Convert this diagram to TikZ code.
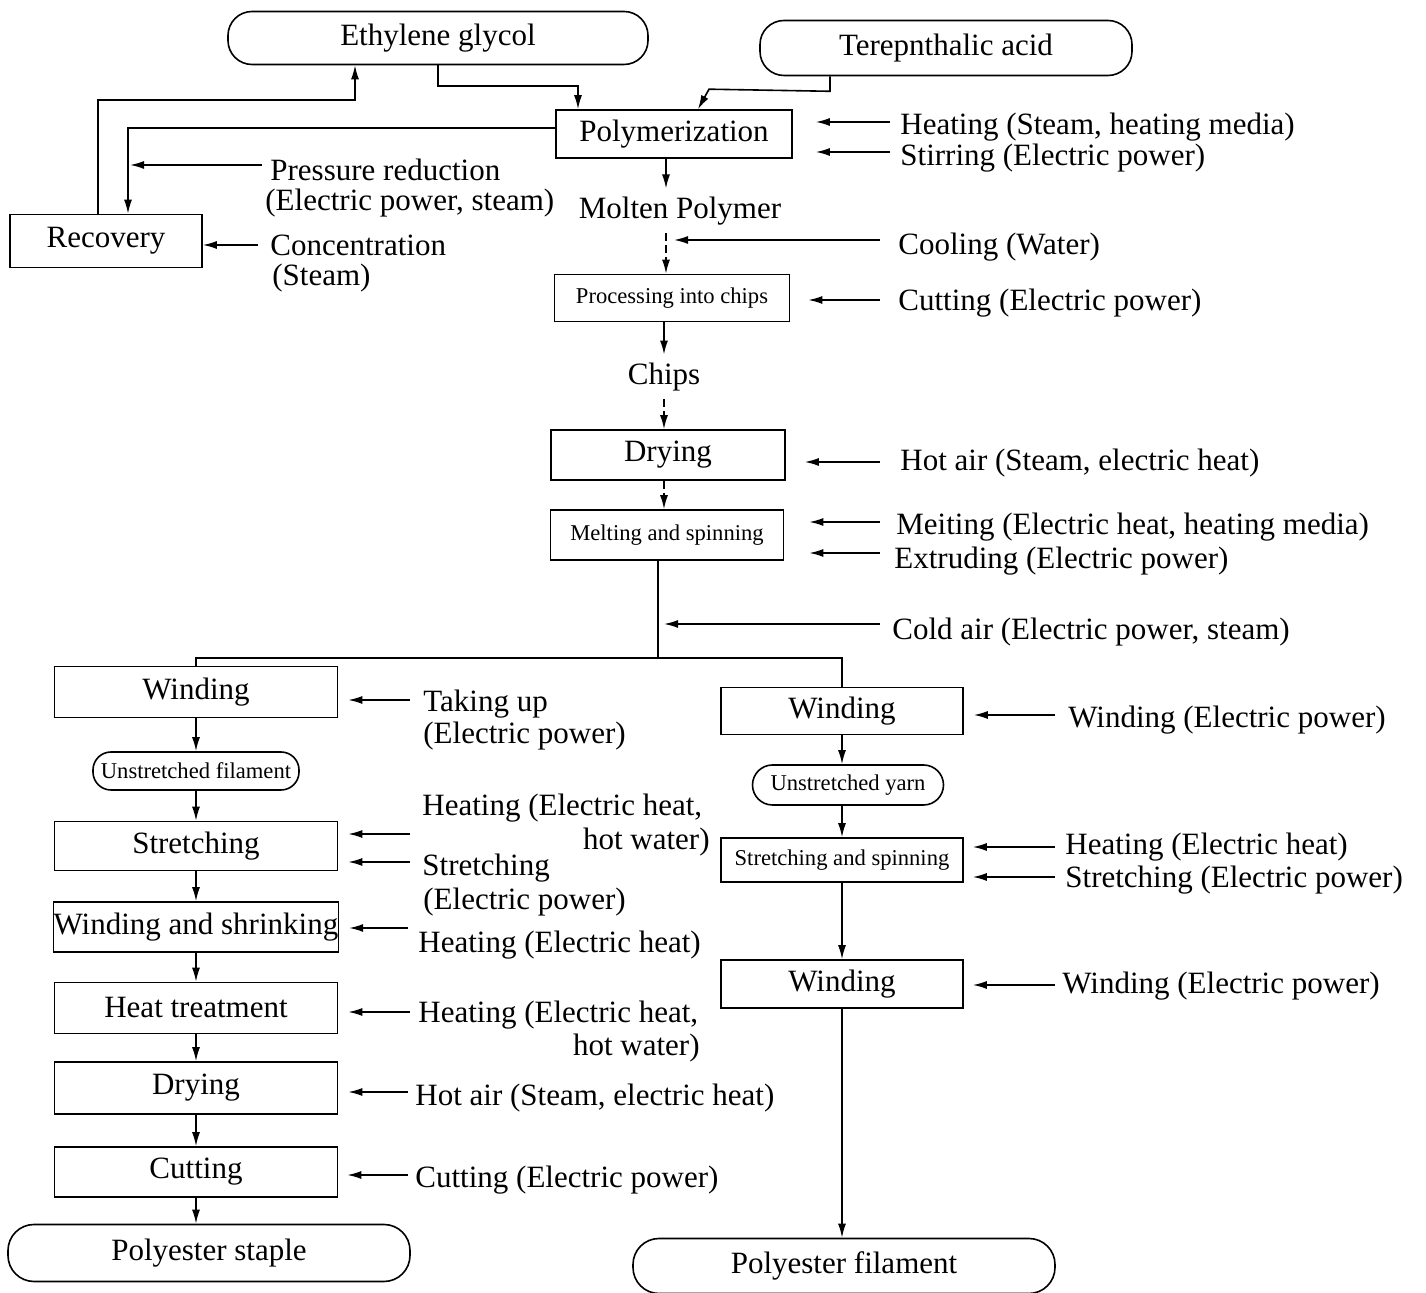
\documentclass[tikz,border=0pt]{standalone}
\usepackage{fontspec}
\setmainfont{Liberation Serif}
\usepackage{tikz}
\usetikzlibrary{positioning,calc,arrows.meta}
\newcommand{\mainsize}{\fontsize{15.5}{16.5}\selectfont}
\newcommand{\boxsmall}{\fontsize{11.3}{13}\selectfont}
\tikzstyle{arrow}=[-{Latex[length=7pt,width=4pt]}, line width=0.8pt]
\tikzstyle{line}=[line width=0.8pt]
\tikzstyle{stepbox}=[draw, line width=0.8pt, inner sep=0pt, font=\mainsize]
\tikzstyle{endbox}=[draw, line width=0.8pt, inner sep=0pt, rounded corners=12pt, font=\mainsize]
\tikzstyle{lbl}=[anchor=west, inner sep=0pt, font=\mainsize]
\tikzstyle{mid}=[inner sep=4pt, font=\mainsize]

\begin{document}
\begin{tikzpicture}[x=0.5pt, y=-0.5pt]
	\useasboundingbox (0,0) rectangle (1426,1293);
	% raw materials and polymer line
	\node[endbox, minimum width=210pt, minimum height=26.5pt] (eg) at (438,38) {Ethylene glycol};
	\node[endbox, minimum width=186pt, minimum height=27.5pt] (ta) at (946,48) {Terepnthalic acid};
	\node[stepbox, minimum width=118pt, minimum height=24pt] (poly) at (674,134) {Polymerization};
	\node[stepbox, minimum width=96pt, minimum height=26.5pt] (rec) at (106,241) {Recovery};
	\node[mid] (mp) at (680,211) {Molten Polymer};
	\node[stepbox, font=\boxsmall, minimum width=117.5pt, minimum height=23.5pt] (pc) at (672,298) {Processing into chips};
	\node[mid] (chips) at (664,377) {Chips};
	\node[stepbox, minimum width=117pt, minimum height=25pt] (dry) at (668,455) {Drying};
	\node[stepbox, font=\boxsmall, minimum width=116.5pt, minimum height=25pt] (melt) at (667,535) {Melting and spinning};
	\coordinate (split) at (658,658);

	% staple line
	\node[stepbox, minimum width=141.5pt, minimum height=25.5pt] (wl) at (196,692) {Winding};
	\node[endbox, font=\boxsmall, rounded corners=9pt, minimum width=103pt, minimum height=19pt] (uf) at (196,771) {Unstretched filament};
	\node[stepbox, minimum width=141.5pt, minimum height=24.5pt] (sl) at (196,846) {Stretching};
	\node[stepbox, minimum width=141.5pt, minimum height=25pt] (ws) at (196,927) {Winding and shrinking};
	\node[stepbox, minimum width=141.5pt, minimum height=25.5pt] (ht) at (196,1008) {Heat treatment};
	\node[stepbox, minimum width=141.5pt, minimum height=26pt] (dl) at (196,1088) {Drying};
	\node[stepbox, minimum width=141.5pt, minimum height=25pt] (cl) at (196,1172) {Cutting};
	\node[endbox, minimum width=201pt, minimum height=28.5pt, rounded corners=13pt] (pst) at (209,1253) {Polyester staple};

	% filament line
	\node[stepbox, minimum width=121pt, minimum height=23.5pt] (wr) at (842,711) {Winding};
	\node[endbox, font=\boxsmall, rounded corners=10pt, minimum width=95.5pt, minimum height=20pt] (uy) at (848,785) {Unstretched yarn};
	\node[stepbox, font=\boxsmall, minimum width=121pt, minimum height=22pt] (ss) at (842,860) {Stretching and spinning};
	\node[stepbox, minimum width=121pt, minimum height=24pt] (wr2) at (842,984) {Winding};
	\node[endbox, minimum width=211pt, minimum height=27.5pt, rounded corners=13pt] (pf) at (844,1266) {Polyester filament};

	% utility labels
	\node[lbl] (heat1) at (900,127) {Heating (Steam, heating media)};
	\node[lbl] (stir) at (900,158) {Stirring (Electric power)};
	\node[lbl] (cool) at (898,247) {Cooling (Water)};
	\node[lbl] (cut1) at (898,303) {Cutting (Electric power)};
	\node[lbl] (hot1) at (900,463) {Hot air (Steam, electric heat)};
	\node[lbl] (melt1) at (896,527) {Meiting (Electric heat, heating media)};
	\node[lbl] (extr) at (894,561) {Extruding (Electric power)};
	\node[lbl] (cold) at (892,632) {Cold air (Electric power, steam)};
	\node[lbl] (pres1) at (270,170) {Pressure reduction};
	\node[lbl] (pres2) at (265,203) {(Electric power, steam)};
	\node[lbl] (conc1) at (270,245) {Concentration};
	\node[lbl] (conc2) at (272,278) {(Steam)};

	\node[lbl] (take1) at (423,704) {Taking up};
	\node[lbl] (take2) at (423,736) {(Electric power)};
	\node[lbl] (heatl1) at (422,808) {Heating (Electric heat,};
	\node[lbl, anchor=east] (heatl2) at (710,842) {hot water)};
	\node[lbl] (strl1) at (422,868) {Stretching};
	\node[lbl] (strl2) at (423,902) {(Electric power)};
	\node[lbl] (shr) at (418,945) {Heating (Electric heat)};
	\node[lbl] (heatt1) at (418,1015) {Heating (Electric heat,};
	\node[lbl, anchor=east] (heatt2) at (700,1048) {hot water)};
	\node[lbl] (hot2) at (415,1098) {Hot air (Steam, electric heat)};
	\node[lbl] (cut2) at (415,1180) {Cutting (Electric power)};

	\node[lbl] (wind1) at (1068,720) {Winding (Electric power)};
	\node[lbl] (heatr) at (1065,847) {Heating (Electric heat)};
	\node[lbl] (strr) at (1065,880) {Stretching (Electric power)};
	\node[lbl] (wind2) at (1062,986) {Winding (Electric power)};

	% main flow
	\draw[arrow] (eg.south) |- ($(poly.north)+(-96,-23)$) -- ($(poly.north)+(-96,0)$);
	\draw[arrow] ($(ta.south)+(-116,0)$) -- ($(ta.south)+(-116,15)$) -- ($(poly.north)+(35,-20)$) -- ($(poly.north)+(24,0)$);
	\draw[arrow] ($(poly.west)+(0,-6)$) -| ($(rec.north)+(22,0)$);
	\draw[arrow] ($(rec.north)+(-8,0)$) |- ($(eg.south)+(-83,35)$) -- ($(eg.south)+(-83,0)$);
	\draw[arrow] ($(poly.south)+(-8,0)$) -- ($(poly.south |- mp.north)+(-8,0)$);
	\draw[arrow, dashed, dash pattern=on 4pt off 2pt] ($(pc.north |- mp.south)+(-6,0)$) -- ($(pc.north)+(-6,0)$);
	\draw[arrow] ($(pc.south)+(-8,0)$) -- (chips.north);
	\draw[arrow, dashed, dash pattern=on 4pt off 2pt] (chips.south) -- ($(dry.north)+(-4,0)$);
	\draw[arrow, dashed, dash pattern=on 4pt off 2pt] ($(dry.south)+(-4,0)$) -- ($(melt.north)+(-3,0)$);
	\draw[line] ($(melt.south)+(-9,0)$) -- (split);
	\draw[line] (split) -| (wl.north);
	\draw[line] (split) -| (wr.north);

	% staple flow
	\draw[arrow] (wl.south) -- (uf.north);
	\draw[arrow] (uf.south) -- (sl.north);
	\draw[arrow] (sl.south) -- (ws.north);
	\draw[arrow] (ws.south) -- (ht.north);
	\draw[arrow] (ht.south) -- (dl.north);
	\draw[arrow] (dl.south) -- (cl.north);
	\draw[arrow] (cl.south) -- (cl.south |- pst.north);

	% filament flow
	\draw[arrow] (wr.south) -- (wr.south |- uy.north);
	\draw[arrow] (wr.south |- uy.south) -- (ss.north);
	\draw[arrow] (ss.south) -- (wr2.north);
	\draw[arrow] (wr2.south) -- (wr2.south |- pf.north);

	% utility arrows
	\draw[arrow] ($(heat1.west)+(-10,-5)$) -- ($(poly.east |- heat1.west)+(23,-5)$);
	\draw[arrow] ($(stir.west)+(-10,-6)$) -- ($(poly.east |- stir.west)+(23,-6)$);
	\draw[arrow] ($(cool.west)+(-18,-7)$) -- ($(pc.north |- cool.west)+(2,-7)$);
	\draw[arrow] ($(cut1.west)+(-18,-3)$) -- ($(pc.east |- cut1.west)+(18,-3)$);
	\draw[arrow] ($(hot1.west)+(-20,-1)$) -- ($(dry.east |- hot1.west)+(19,-1)$);
	\draw[arrow] ($(melt1.west)+(-16,-5)$) -- ($(melt.east |- melt1.west)+(25,-5)$);
	\draw[arrow] ($(extr.west)+(-14,-8)$) -- ($(melt.east |- extr.west)+(25,-8)$);
	\draw[arrow] ($(cold.west)+(-12,-8)$) -- ($(split |- cold.west)+(6,-8)$);
	\draw[arrow] ($(pres1.west)+(-8,-5)$) -- ($(rec.north |- pres1.west)+(24,-5)$);
	\draw[arrow] ($(conc1.west)+(-12,0)$) -- (rec.east |- conc1.west);

	\draw[arrow] ($(take1.west)+(-13,-4)$) -- ($(wl.east |- take1.west)+(10,-4)$);
	\draw[arrow] ($(heatl1.west)+(-12,26)$) -- ($(sl.east |- heatl1.west)+(10,26)$);
	\draw[arrow] ($(strl1.west)+(-12,-6)$) -- ($(sl.east |- strl1.west)+(10,-6)$);
	\draw[arrow] ($(shr.west)+(-10,-17)$) -- ($(ws.east |- shr.west)+(10,-17)$);
	\draw[arrow] ($(heatt1.west)+(-8,-3)$) -- ($(ht.east |- heatt1.west)+(10,-3)$);
	\draw[arrow] ($(hot2.west)+(-7,-6)$) -- ($(dl.east |- hot2.west)+(10,-6)$);
	\draw[arrow] ($(cut2.west)+(-7,-5)$) -- ($(cl.east |- cut2.west)+(9,-5)$);

	\draw[arrow] ($(wind1.west)+(-13,-5)$) -- ($(wr.east |- wind1.west)+(10,-5)$);
	\draw[arrow] ($(heatr.west)+(-10,0)$) -- ($(ss.east |- heatr.west)+(9,0)$);
	\draw[arrow] ($(strr.west)+(-10,-3)$) -- ($(ss.east |- strr.west)+(9,-3)$);
	\draw[arrow] ($(wind2.west)+(-7,-1)$) -- ($(wr2.east |- wind2.west)+(9,-1)$);
\end{tikzpicture}
\end{document}
